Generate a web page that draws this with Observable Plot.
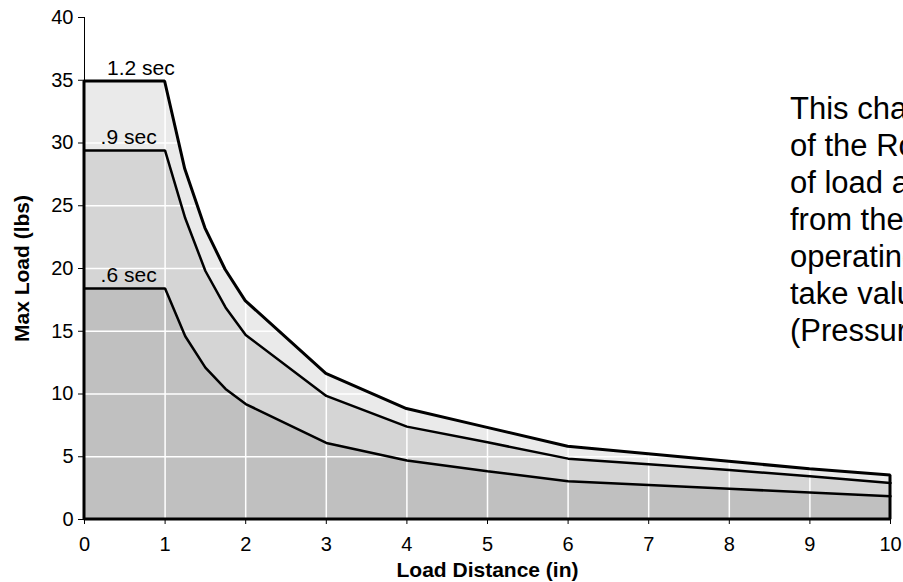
<!DOCTYPE html>
<html>
<head>
<meta charset="utf-8">
<script src="https://cdn.jsdelivr.net/npm/d3@7"></script>
<script src="https://cdn.jsdelivr.net/npm/@observablehq/plot@0.6"></script>
<style>
  html, body { margin: 0; padding: 0; background: #fff; overflow: hidden; width: 903px; height: 582px; }
  #wrap { position: relative; width: 903px; height: 582px; }
  #note { position: absolute; left: 790px; top: 90px; font-family: "Liberation Sans", Arial, sans-serif; font-size: 31px; line-height: 37px; white-space: nowrap; color: #000; }
</style>
</head>
<body>
<div id="wrap">
  <div id="chart"></div>
  <div id="note">This chart shows the capacity<br>of the Rotary actuator in terms<br>of load and distance of the load<br>from the pivot point at various<br>operating speeds. These curves<br>take values at rated conditions<br>(Pressure 80 psi).</div>
</div>
<script>
// Load distance (in)
const distance = [0, 1, 1.25, 1.5, 1.75, 2, 3, 4, 5, 6, 7, 8, 9, 10];
// Max load (lbs) per cycle time
const load12 = [34.9, 34.9, 27.9, 23.2, 19.9, 17.4, 11.6, 8.8, 7.3, 5.8, 5.2, 4.6, 4.0, 3.5];
const load09 = [29.4, 29.4, 24.0, 19.8, 16.9, 14.7, 9.85, 7.4, 6.15, 4.85, 4.4, 3.95, 3.45, 2.9];
const load06 = [18.4, 18.4, 14.6, 12.1, 10.4, 9.2, 6.1, 4.7, 3.85, 3.05, 2.75, 2.45, 2.15, 1.85];
const seriesNames = ["1.2 sec", ".9 sec", ".6 sec"];
const labelX = [0.28, 0.2, 0.2];
const xTicks = [0, 1, 2, 3, 4, 5, 6, 7, 8, 9, 10];
const yTicks = [0, 5, 10, 15, 20, 25, 30, 35, 40];

const toRows = (vals) => distance.map((d, i) => ({x: d, y: vals[i]}));
const d12 = toRows(load12), d09 = toRows(load09), d06 = toRows(load06);
const labels = seriesNames.map((s, i) => ({label: s, x: labelX[i], y: [load12, load09, load06][i][0]}));

const chart = Plot.plot({
  width: 903,
  height: 582,
  marginLeft: 84,
  marginRight: 13,
  marginTop: 17,
  marginBottom: 63,
  style: {fontFamily: "'Liberation Sans', Arial, sans-serif", fontSize: "20px", background: "#fff", color: "#000"},
  x: {domain: [0, 10]},
  y: {domain: [0, 40]},
  marks: [
    Plot.areaY(d12, {x: "x", y: "y", fill: "#eaeaea"}),
    Plot.areaY(d09, {x: "x", y: "y", fill: "#d5d5d5"}),
    Plot.areaY(d06, {x: "x", y: "y", fill: "#c0c0c0"}),
    Plot.gridX(xTicks.slice(1), {stroke: "#fff", strokeOpacity: 1, strokeWidth: 1.5}),
    Plot.gridY(yTicks.slice(1), {stroke: "#fff", strokeOpacity: 1, strokeWidth: 1.5}),
    Plot.ruleX([0], {y1: 0, y2: 40, stroke: "#000", strokeWidth: 1}),
    Plot.lineY(d06, {x: "x", y: "y", stroke: "#000", strokeWidth: 2.5, strokeLinejoin: "miter"}),
    Plot.lineY(d09, {x: "x", y: "y", stroke: "#000", strokeWidth: 2.5, strokeLinejoin: "miter"}),
    Plot.areaY(d12, {x: "x", y: "y", fill: "none", stroke: "#000", strokeWidth: 3, strokeLinejoin: "miter"}),
    Plot.axisY({ticks: yTicks, tickSize: 6, tickPadding: 5, label: null, stroke: "#000", fill: "#000", fontSize: 20}),
    Plot.axisX({ticks: xTicks, tickSize: 5, tickPadding: 12, label: null, stroke: "#000", fill: "#000", fontSize: 20}),
    Plot.text(labels, {x: "x", y: "y", text: "label", textAnchor: "start", lineAnchor: "bottom", dy: -7, fontSize: 21, fill: "#000"}),
    Plot.text(["Load Distance (in)"], {frameAnchor: "bottom", textAnchor: "middle", lineAnchor: "middle", dy: 51, fontWeight: "bold", fontSize: 21, fill: "#000"}),
    Plot.text(["Max Load (lbs)"], {frameAnchor: "left", textAnchor: "middle", lineAnchor: "middle", dx: -62, rotate: -90, fontWeight: "bold", fontSize: 21, fill: "#000"})
  ]
});
document.getElementById("chart").appendChild(chart);
</script>
</body>
</html>
